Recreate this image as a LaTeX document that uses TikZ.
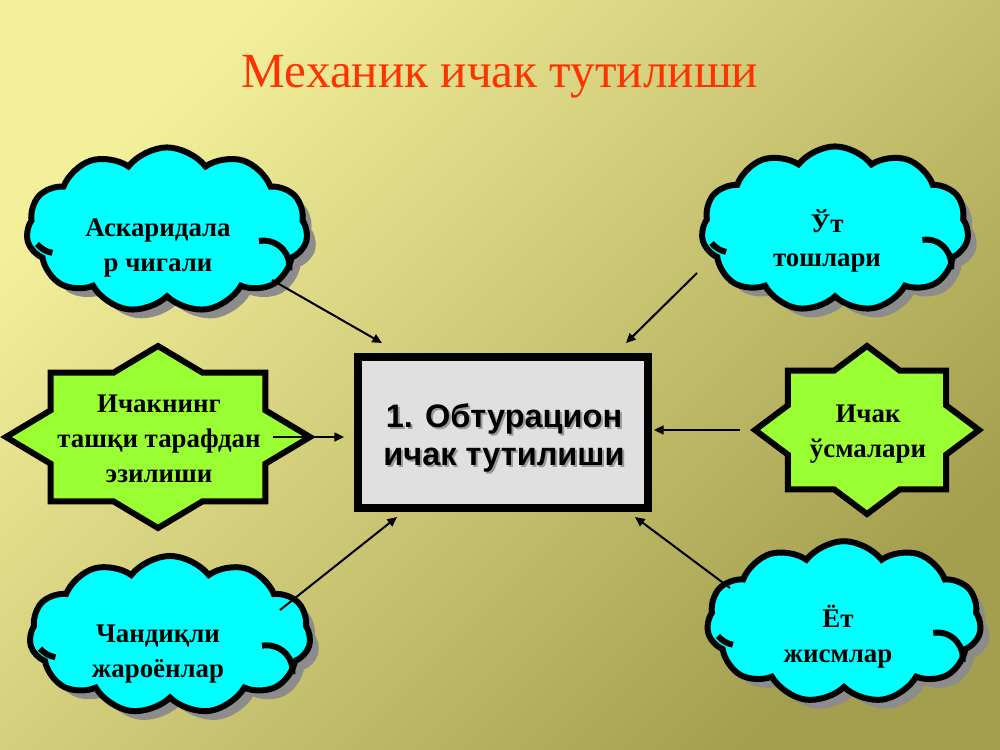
\documentclass[tikz,border=0pt]{standalone}
\usepackage{fontspec}
\setmainfont{Liberation Serif}
\newfontfamily\arialfont{Liberation Sans}
\usetikzlibrary{shapes.symbols,shadows,arrows.meta}
\definecolor{bgA}{RGB}{243,239,155}
\definecolor{bgB}{RGB}{163,159,78}
\definecolor{titlered}{RGB}{255,51,0}
\definecolor{stargreen}{RGB}{153,255,51}
\definecolor{cloudcyan}{RGB}{0,255,255}
\definecolor{boxgray}{RGB}{224,224,224}
\tikzset{
  cloudbox/.style={cloud, cloud puffs=11, cloud puff arc=105, cloud ignores aspect,
    draw=black, line width=3.4pt, fill=cloudcyan, inner sep=0pt,
    drop shadow={shadow xshift=5pt, shadow yshift=-5pt, fill=black!45, opacity=1}},
  cloudmark/.style={draw=black, line width=3.4pt},
  starfill/.style={draw=black, line width=3.4pt, fill=stargreen},
  lbl/.style={font=\bfseries\fontsize{15.3}{19.8}\selectfont, align=center, inner sep=0pt},
  conn/.style={draw=black, line width=1.15pt, -{Triangle[length=5.5pt,width=5pt]}},
}
\newcommand\octstar[4]{%
  \begin{scope}[shift={(#1,#2)}]
    \draw[starfill] (0:#3 and #4)
      \foreach \a in {0,45,...,315}{
        -- ({\a+22.5}:{0.7654*#3} and {0.7654*#4}) -- ({\a+45}:#3 and #4)} -- cycle;
  \end{scope}}
\newcommand\cloudmarks[3]{% node, xscale, yscale
  \begin{scope}[shift={(#1.center)}, xscale=#2, yscale=#3]
    \draw[cloudmark] (92,11) arc[start angle=-100, end angle=8, radius=26];
    \draw[cloudmark] (-130,14) arc[start angle=140, end angle=100, radius=26];
  \end{scope}}
\begin{document}
\begin{tikzpicture}[x=0.02cm, y=-0.02cm]
  \useasboundingbox (0,0) rectangle (1000,750);
  \shade[top color=bgA, bottom color=bgB, shading angle=45] (0,0) rectangle (1000,750);

  % title
  \node[anchor=base, text=titlered, font=\fontsize{28}{34}\selectfont, inner sep=0pt] (title) at (500,88) {Механик ичак тутилиши};

  % clouds
  \node[cloudbox, minimum width=160pt, minimum height=94pt] (c1) at (167,230) {};
  \node[cloudbox, minimum width=152pt, minimum height=94pt] (c2) at (835,229) {};
  \node[cloudbox, minimum width=160pt, minimum height=90pt] (c3) at (170,635) {};
  \node[cloudbox, minimum width=156pt, minimum height=92pt] (c4) at (844,622) {};
  \cloudmarks{c1}{1}{1}
  \cloudmarks{c2}{0.95}{1}
  \cloudmarks{c3}{1}{0.97}
  \cloudmarks{c4}{0.97}{0.99}

  % stars
  \octstar{158}{437}{152}{91}
  \octstar{867}{430}{112}{84}

  % central box
  \node[draw=black, line width=4.5pt, fill=boxgray, minimum width=165.5pt, minimum height=85.6pt, inner sep=0pt] (box) at (503,432.5) {};
  \node[font=\arialfont\bfseries\fontsize{18.5}{22}\selectfont, align=center, inner sep=0pt, text=black!40] (boxsh) at (506,440) {1. Обтурацион\\ичак тутилиши};
  \node[font=\arialfont\bfseries\fontsize{18.5}{22}\selectfont, align=center, inner sep=0pt] (boxt) at (504,438) {1. Обтурацион\\ичак тутилиши};

  % labels
  \node[lbl] (t1) at (158,248) {Аскаридала\\р чигали};
  \node[lbl] (t2) at (827,241) {Ўт\\тошлари};
  \node[lbl] (t3) at (158,654) {Чандиқли\\жароёнлар};
  \node[lbl] (t4) at (838,637) {Ёт\\жисмлар};
  \node[lbl] (s1) at (159,439) {Ичакнинг\\ташқи тарафдан\\эзилиши};
  \node[lbl] (s2) at (868,434) {Ичак\\ўсмалари};

  % connectors
  \coordinate (a1s) at (272,280); \coordinate (a1e) at (382,343);
  \coordinate (a2s) at (697,273); \coordinate (a2e) at (626,343);
  \coordinate (a3s) at (273,437); \coordinate (a3e) at (344,437);
  \coordinate (a4s) at (740,430); \coordinate (a4e) at (654,430);
  \coordinate (a5s) at (280,610); \coordinate (a5e) at (397,517);
  \coordinate (a6s) at (730,588); \coordinate (a6e) at (635,517);
  \draw[conn] (a1s) -- (a1e);
  \draw[conn] (a2s) -- (a2e);
  \draw[conn] (a3s) -- (a3e);
  \draw[conn] (a4s) -- (a4e);
  \draw[conn] (a5s) -- (a5e);
  \draw[conn] (a6s) -- (a6e);
\end{tikzpicture}
\end{document}
